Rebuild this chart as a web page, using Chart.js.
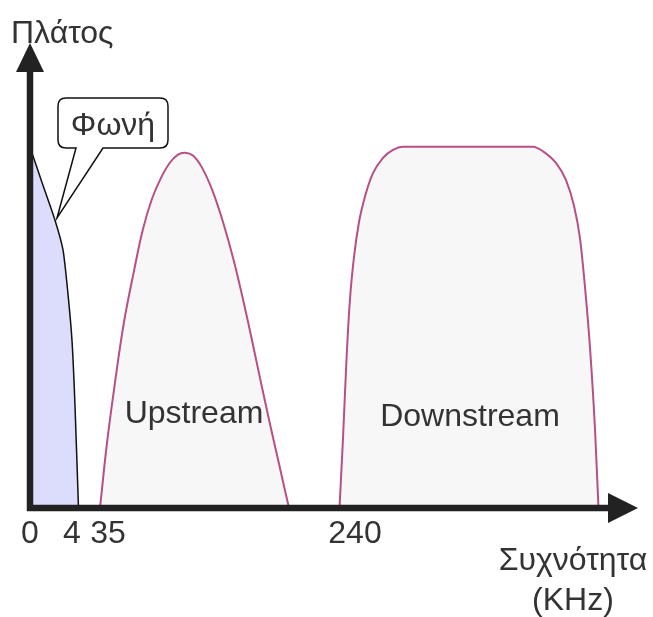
<!DOCTYPE html>
<html>
<head>
<meta charset="utf-8">
<script src="https://cdn.jsdelivr.net/npm/chart.js@4.4.0/dist/chart.umd.min.js"></script>
<style>
  html, body { margin: 0; padding: 0; background: #fff; }
  #wrap { width: 653px; height: 617px; }
</style>
</head>
<body>
<div id="wrap"><canvas id="chart"></canvas></div>
<script>
// schematic axis units: x = position along frequency axis, y = amplitude (0-100)
const voiceX = [0, 12, 25, 33, 38, 42, 45, 48.5];
const voiceY = [77.6, 70, 61.9, 55.5, 46, 36, 22, 0];

const upX = [70, 77, 85, 94, 104, 113, 122, 131, 140, 148, 155, 163, 172, 182, 193, 204, 216, 227, 238, 249, 259];
const upY = [0, 14, 27, 40, 51, 60, 66.5, 71, 74.3, 76, 76.4, 75.8, 73.2, 68.5, 61.5, 53, 42, 31, 20, 9.5, 0];

const downX = [309.5, 313, 316.5, 320, 324, 329, 335, 343, 353, 363, 373, 503, 513, 526, 536, 544, 550, 555, 560, 565, 568.5];
const downY = [0, 15, 32, 45, 54, 61.5, 67, 72, 75.3, 77, 77.7, 77.7, 76.7, 74.2, 70.5, 65, 58, 47.5, 34.5, 17, 0];

const tickValues = [0, 42, 78, 325];
const tickLabels = ["0", "4", "35", "240"];

const FONT = "32px 'Liberation Sans', Arial, sans-serif";
const INK = "#333";
const AXIS = "#222";

const toPoints = (xs, ys) => xs.map((x, i) => ({ x: x, y: ys[i] }));

const drawing = {
  id: "drawing",
  afterDatasetsDraw(chart) {
    const ctx = chart.ctx;
    const xs = chart.scales.x;
    const ys = chart.scales.y;
    const x0 = xs.getPixelForValue(0);
    const y0 = ys.getPixelForValue(0);
    const xEnd = xs.getPixelForValue(xs.max);
    const yEnd = ys.getPixelForValue(ys.max);

    ctx.save();
    // axes with arrow heads
    ctx.strokeStyle = AXIS;
    ctx.fillStyle = AXIS;
    ctx.lineWidth = 6.5;
    ctx.beginPath();
    ctx.moveTo(x0, y0 + 3);
    ctx.lineTo(x0, yEnd + 28);
    ctx.moveTo(x0 - 3, y0);
    ctx.lineTo(xEnd - 28, y0);
    ctx.stroke();
    ctx.beginPath();
    ctx.moveTo(x0, yEnd);
    ctx.lineTo(x0 - 14, yEnd + 29);
    ctx.lineTo(x0 + 14, yEnd + 29);
    ctx.closePath();
    ctx.fill();
    ctx.beginPath();
    ctx.moveTo(xEnd, y0);
    ctx.lineTo(xEnd - 30, y0 - 15);
    ctx.lineTo(xEnd - 30, y0 + 15);
    ctx.closePath();
    ctx.fill();

    // labels
    ctx.font = FONT;
    ctx.fillStyle = INK;
    ctx.textBaseline = "alphabetic";
    ctx.textAlign = "center";
    tickValues.forEach((v, i) => {
      ctx.fillText(tickLabels[i], xs.getPixelForValue(v), y0 + 35);
    });
    ctx.fillText("Συχνότητα", 573, 570);
    ctx.fillText("(KHz)", 573, 610);
    ctx.fillText("Upstream", 194, 423);
    ctx.fillText("Downstream", 470, 426);
    ctx.textAlign = "left";
    ctx.fillText("Πλάτος", 11, 43);

    // callout bubble
    const L = 58, T = 98, R = 168, B = 148, r = 8;
    ctx.beginPath();
    ctx.moveTo(L + r, T);
    ctx.lineTo(R - r, T);
    ctx.quadraticCurveTo(R, T, R, T + r);
    ctx.lineTo(R, B - r);
    ctx.quadraticCurveTo(R, B, R - r, B);
    ctx.lineTo(103, B);
    ctx.lineTo(57, 218);
    ctx.lineTo(76, B);
    ctx.lineTo(L + r, B);
    ctx.quadraticCurveTo(L, B, L, B - r);
    ctx.lineTo(L, T + r);
    ctx.quadraticCurveTo(L, T, L + r, T);
    ctx.closePath();
    ctx.fillStyle = "#fff";
    ctx.fill();
    ctx.strokeStyle = "#111";
    ctx.lineWidth = 1.5;
    ctx.stroke();
    ctx.fillStyle = INK;
    ctx.textAlign = "center";
    ctx.fillText("Φωνή", 113, 135);
    ctx.restore();
  }
};

new Chart(document.getElementById("chart"), {
  type: "line",
  data: {
    datasets: [
      {
        label: "Φωνή",
        data: toPoints(voiceX, voiceY),
        borderColor: "#111",
        borderWidth: 1.5,
        backgroundColor: "#dcdcfc",
        fill: "origin",
        tension: 0.2,
        pointRadius: 0,
      },
      {
        label: "Upstream",
        data: toPoints(upX, upY),
        borderColor: "#b84f86",
        borderWidth: 2,
        backgroundColor: "#f7f7f7",
        fill: "origin",
        tension: 0.4,
        pointRadius: 0,
      },
      {
        label: "Downstream",
        data: toPoints(downX, downY),
        borderColor: "#b84f86",
        borderWidth: 2,
        backgroundColor: "#f7f7f7",
        fill: "origin",
        cubicInterpolationMode: "monotone",
        pointRadius: 0,
      },
    ],
  },
  options: {
    responsive: true,
    maintainAspectRatio: false,
    animation: false,
    layout: { padding: { left: 30, top: 43, right: 15, bottom: 109 } },
    plugins: {
      legend: { display: false },
      tooltip: { enabled: false },
    },
    scales: {
      x: { type: "linear", min: 0, max: 608, display: false },
      y: { type: "linear", min: 0, max: 100, display: false },
    },
  },
  plugins: [drawing],
});
</script>
</body>
</html>
